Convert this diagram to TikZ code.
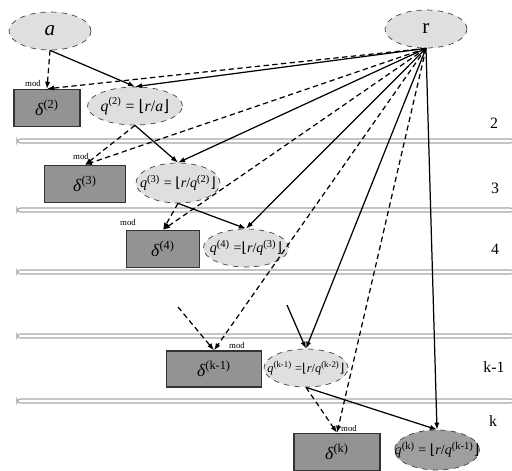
\documentclass[tikz,border=0pt]{standalone}
\usepackage{fontspec}
\setmainfont{Liberation Serif}
\newfontfamily\symfont{DejaVu Sans}
\usetikzlibrary{arrows.meta,shapes.geometric}
\newcommand{\flr}[1]{{\symfont ⌊}#1{\symfont ⌋}}
\newcommand{\qi}[1]{\textit{q}\textsuperscript{(#1)}}
\newcommand{\di}[1]{\textit{δ}\textsuperscript{(#1)}}
\begin{document}
\begin{tikzpicture}[
    x=0.02cm, y=-0.02cm,
    >={Latex[length=4pt,width=3pt]},
    val/.style={
        ellipse,
        draw=black!75,
        dashed,
        fill=gray!25,
        inner sep=0pt,
        minimum width=1.7cm,
        minimum height=0.76cm
    },
    txt/.style={font=#1, inner sep=0pt},
    rem/.style={
        draw=black!80,
        line width=0.8pt,
        fill=gray!85,
        inner sep=0pt,
        minimum height=0.74cm,
        font=\normalsize
    },
    band/.style={
        draw=gray!70,
        fill=white,
        rounded corners=2pt,
        line width=0.6pt
    },
    modlbl/.style={font=\tiny, inner sep=1pt},
    lvl/.style={font=\small},
    solidarr/.style={->, line width=0.7pt},
    dasharr/.style={->, line width=0.7pt, dash pattern=on 3pt off 2pt}
]
\useasboundingbox (0,0) rectangle (512,471);

% levels
\draw[band] (17,139) rectangle (514,143);
\draw[band] (17,208) rectangle (514,212);
\draw[band] (17,270) rectangle (514,274);
\draw[band] (17,334) rectangle (514,338);
\draw[band] (17,399) rectangle (514,403);

\node[lvl] (l2) at (494,123) {2};
\node[lvl] (l3) at (495,188) {3};
\node[lvl] (l4) at (495,249) {4};
\node[lvl] (lk1) at (494,367) {k-1};
\node[lvl] (lk) at (493,421) {k};

% inputs
\node[val, minimum width=1.64cm, font=\large] (a) at (50,31) {\textit{a}};
\node[val, minimum width=1.64cm, font=\large] (r) at (426,29) {r};

% steps
\node[rem, minimum width=1.32cm] (d2) at (47,108) {\di{2}};
\node[val, minimum width=1.9cm,
      label={[txt=\small]center:\qi{2} = \flr{\textit{r}/\textit{a}}}] (q2) at (135,106) {};

\node[rem, minimum width=1.62cm] (d3) at (85,184) {\di{3}};
\node[val, minimum width=1.68cm, minimum height=0.8cm,
      label={[txt=\footnotesize]center:\qi{3} = \flr{\textit{r}/\qi{2}}}] (q3) at (178,183) {};

\node[rem, minimum width=1.46cm] (d4) at (163,249) {\di{4}};
\node[val, label={[txt=\footnotesize]center:\qi{4} =\flr{\textit{r}/\qi{3}}}] (q4) at (246,248) {};

\node[rem, minimum width=1.9cm, minimum height=0.72cm] (dk1) at (214,369) {\di{k-1}};
\node[val, minimum width=1.68cm,
      label={[txt=\scriptsize]center:\qi{k-1} =\flr{\textit{r}/\qi{k-2}}}] (qk1) at (306,368) {};

\node[rem, minimum width=1.72cm] (dk) at (337,452) {\di{k}};
\node[val, fill=gray!75, minimum height=0.8cm,
      label={[txt=\footnotesize]center:\qi{k} = \flr{\textit{r}/\qi{k-1}}}] (qk) at (437,450) {};

\coordinate (dk1in) at (178,307);
\coordinate (qk1in) at (287,305);

% links
\draw[dasharr] (a.south) -- (d2.north);
\draw[solidarr] (a.south) -- (q2.north);
\draw[dasharr] (q2.south) -- (d3.north);
\draw[solidarr] (q2.south) -- (q3.north);
\draw[dasharr] (q3.south) -- (d4.north);
\draw[solidarr] (q3.south) -- (q4.north);
\draw[dasharr] (dk1in) -- (dk1.north);
\draw[solidarr] (qk1in) -- (qk1.north);
\draw[dasharr] (qk1.south) -- (dk.north);
\draw[solidarr] (qk1.south) -- (qk.north);

\foreach \d/\q in {d2/q2, d3/q3, d4/q4, dk1/qk1, dk/qk} {
    \draw[dasharr] (r.south) -- (\d.north);
    \draw[solidarr] (r.south) -- (\q.north);
}

\node[modlbl] (m2) at (33,83) {mod};
\node[modlbl] (m3) at (81,156) {mod};
\node[modlbl] (m4) at (128,222) {mod};
\node[modlbl] (mk1) at (237,345) {mod};
\node[modlbl] (mk) at (349,428) {mod};

\end{tikzpicture}
\end{document}
